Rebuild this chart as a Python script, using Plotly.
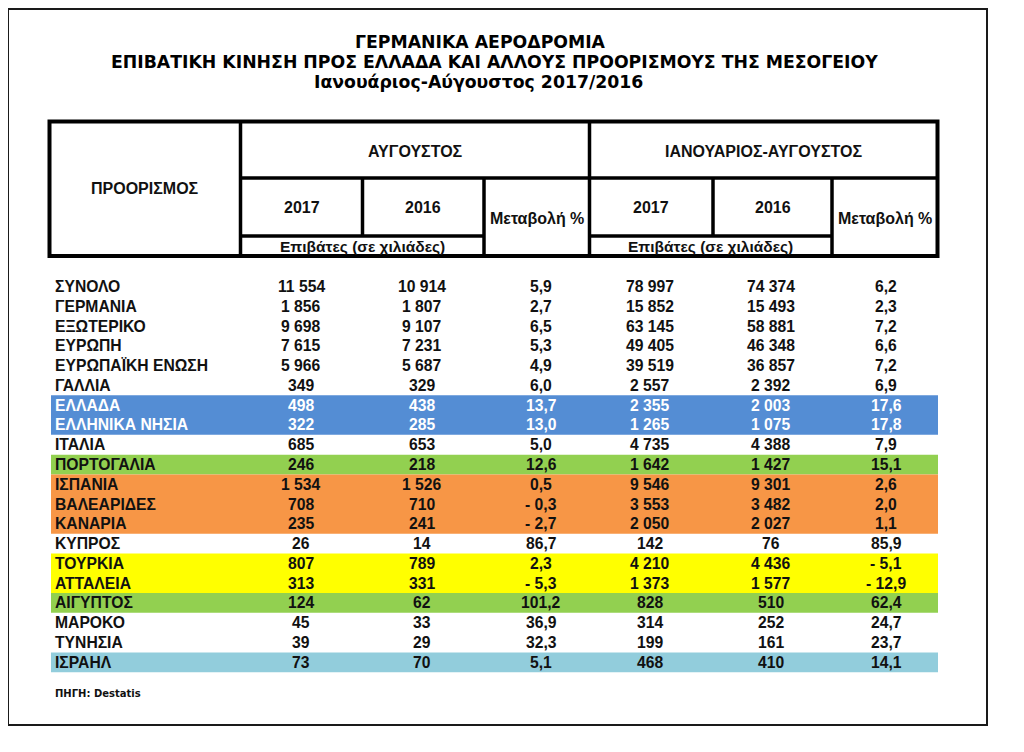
import plotly.graph_objects as go

# ---------------- data ----------------
title_lines = [
    "ΓΕΡΜΑΝΙΚΑ ΑΕΡΟΔΡΟΜΙΑ",
    "ΕΠΙΒΑΤΙΚΗ ΚΙΝΗΣΗ ΠΡΟΣ ΕΛΛΑΔΑ ΚΑΙ ΑΛΛΟΥΣ ΠΡΟΟΡΙΣΜΟΥΣ ΤΗΣ ΜΕΣΟΓΕΙΟΥ",
    "Ιανουάριος-Αύγουστος 2017/2016",
]
destinations = [
    "ΣΥΝΟΛΟ", "ΓΕΡΜΑΝΙΑ", "ΕΞΩΤΕΡΙΚΟ", "ΕΥΡΩΠΗ", "ΕΥΡΩΠΑΪΚΗ ΕΝΩΣΗ", "ΓΑΛΛΙΑ",
    "ΕΛΛΑΔΑ", "ΕΛΛΗΝΙΚΑ ΝΗΣΙΑ", "ΙΤΑΛΙΑ", "ΠΟΡΤΟΓΑΛΙΑ", "ΙΣΠΑΝΙΑ", "ΒΑΛΕΑΡΙΔΕΣ",
    "ΚΑΝΑΡΙΑ", "ΚΥΠΡΟΣ", "ΤΟΥΡΚΙΑ", "ΑΤΤΑΛΕΙΑ", "ΑΙΓΥΠΤΟΣ", "ΜΑΡΟΚΟ", "ΤΥΝΗΣΙΑ", "ΙΣΡΑΗΛ",
]
aug_2017 = [11554, 1856, 9698, 7615, 5966, 349, 498, 322, 685, 246, 1534, 708, 235, 26, 807, 313, 124, 45, 39, 73]
aug_2016 = [10914, 1807, 9107, 7231, 5687, 329, 438, 285, 653, 218, 1526, 710, 241, 14, 789, 331, 62, 33, 29, 70]
aug_change = [5.9, 2.7, 6.5, 5.3, 4.9, 6.0, 13.7, 13.0, 5.0, 12.6, 0.5, -0.3, -2.7, 86.7, 2.3, -5.3, 101.2, 36.9, 32.3, 5.1]
ytd_2017 = [78997, 15852, 63145, 49405, 39519, 2557, 2355, 1265, 4735, 1642, 9546, 3553, 2050, 142, 4210, 1373, 828, 314, 199, 468]
ytd_2016 = [74374, 15493, 58881, 46348, 36857, 2392, 2003, 1075, 4388, 1427, 9301, 3482, 2027, 76, 4436, 1577, 510, 252, 161, 410]
ytd_change = [6.2, 2.3, 7.2, 6.6, 7.2, 6.9, 17.6, 17.8, 7.9, 15.1, 2.6, 2.0, 1.1, 85.9, -5.1, -12.9, 62.4, 24.7, 23.7, 14.1]
# row highlight groups: (first row, last row, fill colour, text colour)
highlights = [
    (6, 7, "#548DD4", "white"),
    (9, 9, "#92D050", "#111111"),
    (10, 12, "#F79646", "#111111"),
    (14, 15, "#FFFF00", "#111111"),
    (16, 16, "#92D050", "#111111"),
    (19, 19, "#92CDDC", "#111111"),
]
header_groups = ["ΑΥΓΟΥΣΤΟΣ", "ΙΑΝΟΥΑΡΙΟΣ-ΑΥΓΟΥΣΤΟΣ"]
header_years = ["2017", "2016"]
header_change = "Μεταβολή %"
header_unit = "Επιβάτες (σε χιλιάδες)"
header_dest = "ΠΡΟΟΡΙΣΜΟΣ"
source_text = "ΠΗΓΗ: Destatis"

# ---------------- layout constants (pixels) ----------------
W, H = 1024, 752
PAGE_OFF = 8  # page body margin in the browser
XL, XC1, XC2, XC3, XC4, XC5, XC6, XR = 49.5, 240.5, 362.5, 484, 589.5, 713, 832, 937.5
YT, YR1, YR2, YB = 121.5, 178, 236, 256
ROW0, PITCH = 286.5, 19.78
COL_X = [301, 422, 541, 650, 771, 886]
NAME_X = 53
BAND_X0, BAND_X1 = 51, 938

def fmt_int(v):
    return f"{v:,}".replace(",", " ")

def fmt_pct(v):
    s = f"{abs(v):.1f}".replace(".", ",")
    return ("- " + s) if v < 0 else s

fig = go.Figure()
fig.add_trace(go.Scatter(x=[PAGE_OFF, W], y=[PAGE_OFF, H], mode="markers",
                         marker=dict(opacity=0), hoverinfo="skip", showlegend=False))

shapes = []
# outer frame
shapes.append(dict(type="rect", x0=8, y0=9, x1=987, y1=725,
                   line=dict(color="#1a1a1a", width=2), fillcolor="rgba(0,0,0,0)"))

# row bands
text_color = ["#111111"] * len(destinations)
for r0, r1, fill, tc in highlights:
    shapes.append(dict(type="rect", x0=BAND_X0, x1=BAND_X1,
                       y0=ROW0 + (r0 - 0.5) * PITCH, y1=ROW0 + (r1 + 0.5) * PITCH,
                       line=dict(width=0), fillcolor=fill, layer="below"))
    for r in range(r0, r1 + 1):
        text_color[r] = tc

# header grid
LW = 3.5
def hline(x0, x1, y):
    shapes.append(dict(type="line", x0=x0, x1=x1, y0=y, y1=y, line=dict(color="black", width=LW)))
def vline(x, y0, y1):
    shapes.append(dict(type="line", x0=x, x1=x, y0=y0, y1=y1, line=dict(color="black", width=LW)))

shapes.append(dict(type="rect", x0=XL, x1=XR, y0=YT, y1=YB,
                   line=dict(color="black", width=4), fillcolor="rgba(0,0,0,0)"))
hline(XC1, XR, YR1)
hline(XC1, XC3, YR2)
hline(XC4, XC6, YR2)
vline(XC1, YT, YB)
vline(XC4, YT, YB)
vline(XC2, YR1, YR2)
vline(XC5, YR1, YR2)
vline(XC3, YR1, YB)
vline(XC6, YR1, YB)

ann = []
def text(x, y, s, size, color="#111111", anchor="center", family="Liberation Sans, Arial, sans-serif", weight="bold"):
    ann.append(dict(x=x, y=y, xref="x", yref="y", text=s, showarrow=False,
                    xanchor=anchor, yanchor="middle",
                    font=dict(family=family, size=size, color=color, weight=weight)))

# title
TITLE_FONT = "DejaVu Sans, Verdana, sans-serif"
for s, (tx, ty) in zip(title_lines, [(480, 42), (494, 61.5), (478, 81.5)]):
    text(tx, ty, s, 17.3, color="black", family=TITLE_FONT)

# header texts
HS = 16
text((XL + XC1) / 2, 188, header_dest, HS)
text((XC1 + XC4) / 2, 151, header_groups[0], HS)
text((XC4 + XR) / 2, 151, header_groups[1], HS)
for gx in [(XC1, XC2, XC3), (XC4, XC5, XC6)]:
    text((gx[0] + gx[1]) / 2, 207, header_years[0], HS)
    text((gx[1] + gx[2]) / 2, 207, header_years[1], HS)
    text((gx[0] + gx[2]) / 2, 246.5, header_unit, 15.5)
text((XC3 + XC4) / 2, 218, header_change, HS)
text((XC6 + XR) / 2, 218, header_change, HS)

# body
DS = 15.7
cols = [
    [fmt_int(v) for v in aug_2017],
    [fmt_int(v) for v in aug_2016],
    [fmt_pct(v) for v in aug_change],
    [fmt_int(v) for v in ytd_2017],
    [fmt_int(v) for v in ytd_2016],
    [fmt_pct(v) for v in ytd_change],
]
for i, name in enumerate(destinations):
    y = ROW0 + i * PITCH
    text(NAME_X, y, name, DS, color=text_color[i], anchor="left")
    for cx, col in zip(COL_X, cols):
        text(cx, y, col[i], DS, color=text_color[i])

text(53, 693, source_text, 10, family=TITLE_FONT, anchor="left")

fig.update_layout(
    width=W, height=H, margin=dict(l=0, r=0, t=0, b=0),
    paper_bgcolor="white", plot_bgcolor="white",
    xaxis=dict(range=[PAGE_OFF, W + PAGE_OFF], visible=False, fixedrange=True),
    yaxis=dict(range=[H + PAGE_OFF, PAGE_OFF], visible=False, fixedrange=True),
    shapes=shapes, annotations=ann, showlegend=False,
)
fig.write_html("out.html", config={"displayModeBar": False})
